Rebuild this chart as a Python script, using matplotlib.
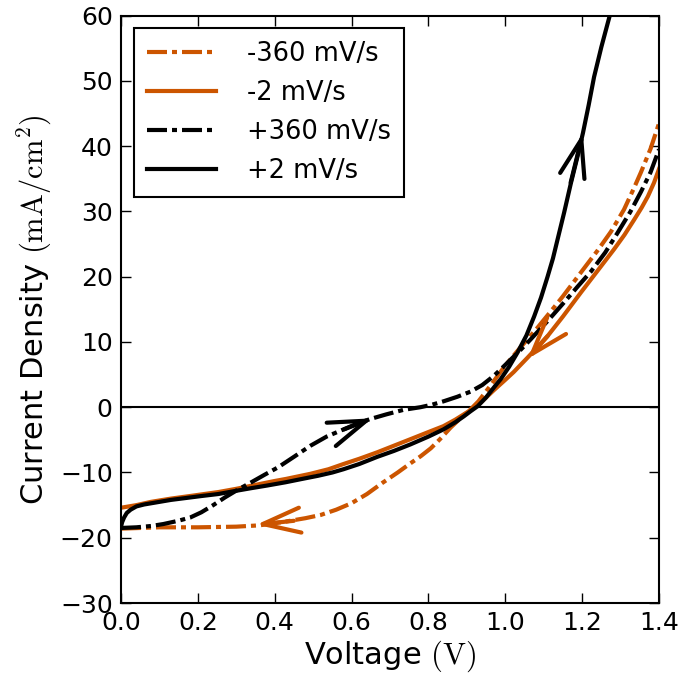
import matplotlib
matplotlib.use("Agg")
import matplotlib.pyplot as plt

# J-V sweeps, voltage in V and current density in mA/cm^2
v_fwd_slow = [0.000, 0.003, 0.008, 0.015, 0.025, 0.040, 0.060, 0.090, 0.130, 0.170,
              0.210, 0.253, 0.300, 0.339, 0.380, 0.428, 0.470, 0.513, 0.550, 0.579,
              0.620, 0.667, 0.710, 0.753, 0.800, 0.839, 0.870, 0.892, 0.910, 0.928,
              0.950, 0.970, 0.988, 1.010, 1.032, 1.055, 1.075, 1.093, 1.110, 1.124,
              1.136, 1.153, 1.171, 1.187, 1.202, 1.217, 1.231, 1.250, 1.270, 1.285]
j_fwd_slow = [-18.3, -17.6, -16.9, -16.2, -15.7, -15.2, -14.9, -14.6, -14.2, -13.9,
              -13.6, -13.3, -12.8, -12.4, -12.0, -11.5, -11.0, -10.5, -10.0, -9.5,
              -8.7, -7.6, -6.7, -5.7, -4.5, -3.4, -2.3, -1.4, -0.6, 0.15,
              1.5, 3.0, 4.3, 6.2, 8.4, 11.0, 13.9, 16.8, 20.0, 22.8,
              25.7, 29.8, 34.4, 38.2, 42.0, 46.3, 50.6, 55.2, 59.6, 63.0]

v_rev_slow = [0.000, 0.040, 0.078, 0.130, 0.180, 0.253, 0.300, 0.350, 0.400, 0.428,
              0.493, 0.540, 0.579, 0.620, 0.667, 0.710, 0.753, 0.800, 0.839, 0.870,
              0.900, 0.936, 0.970, 1.000, 1.022, 1.058, 1.085, 1.110, 1.150, 1.197,
              1.240, 1.283, 1.310, 1.335, 1.355, 1.371, 1.387, 1.400]
j_rev_slow = [-15.4, -15.0, -14.5, -14.0, -13.6, -13.0, -12.5, -11.9, -11.3, -11.0,
              -10.2, -9.5, -8.7, -7.9, -6.9, -5.9, -4.9, -3.8, -2.9, -1.9,
              -0.8, 0.7, 2.6, 4.2, 5.4, 7.6, 9.3, 10.9, 13.9, 17.6,
              20.9, 24.2, 26.4, 28.7, 30.6, 32.3, 34.4, 36.5]

v_fwd_fast = [0.000, 0.040, 0.078, 0.110, 0.149, 0.180, 0.209, 0.240, 0.271, 0.305,
              0.339, 0.375, 0.409, 0.450, 0.493, 0.535, 0.579, 0.615, 0.649, 0.690,
              0.735, 0.779, 0.810, 0.839, 0.875, 0.910, 0.940, 0.970, 0.995, 1.014,
              1.040, 1.066, 1.110, 1.152, 1.190, 1.223, 1.260, 1.293, 1.325, 1.353,
              1.378, 1.400]
j_fwd_fast = [-18.5, -18.4, -18.2, -17.9, -17.4, -16.9, -16.1, -15.0, -13.8, -12.6,
              -11.5, -10.3, -9.2, -7.6, -5.9, -4.5, -3.4, -2.5, -1.8, -1.1,
              -0.4, 0.0, 0.4, 0.9, 1.6, 2.4, 3.4, 4.8, 6.2, 7.3,
              8.8, 10.4, 13.2, 16.0, 18.6, 20.8, 23.7, 26.8, 29.9, 33.0,
              36.0, 39.5]

v_rev_fast = [0.000, 0.050, 0.100, 0.200, 0.300, 0.360, 0.420, 0.480, 0.520, 0.560,
              0.600, 0.640, 0.680, 0.720, 0.753, 0.780, 0.806, 0.830, 0.858, 0.885,
              0.910, 0.930, 0.960, 1.000, 1.040, 1.084, 1.120, 1.150, 1.200, 1.240,
              1.275, 1.309, 1.335, 1.353, 1.378, 1.400]
j_rev_fast = [-18.6, -18.5, -18.4, -18.4, -18.3, -18.1, -17.6, -17.0, -16.5, -15.7,
              -14.7, -13.3, -11.6, -10.0, -8.6, -7.5, -6.3, -4.9, -3.1, -1.6,
              -0.3, 0.9, 3.2, 6.4, 9.2, 12.2, 14.8, 17.0, 20.9, 24.0,
              26.9, 30.3, 33.6, 36.0, 39.6, 43.5]

# sweep direction markers: (tail, tip) on each curve
arrow_fwd_slow = [(1.17, 34.4), (1.202, 42.0)]
arrow_rev_slow = [(1.11, 10.9), (1.058, 7.4)]
arrow_fwd_fast = [(0.58, -3.4), (0.654, -1.7)]
arrow_rev_fast = [(0.45, -17.4), (0.352, -18.0)]

ORANGE = "#cc5500"
DASHDOT = (14.4, 3.6, 3.6, 3.6)

plt.rcParams["mathtext.fontset"] = "cm"
plt.rcParams["lines.scale_dashes"] = False
plt.rcParams["xtick.direction"] = "in"
plt.rcParams["ytick.direction"] = "in"

fig = plt.figure(figsize=(6.81, 6.80), dpi=100)
ax = fig.add_axes([0.1777, 0.1132, 0.79, 0.8638])

style = dict(lw=3, solid_joinstyle="round", dash_capstyle="butt")
ax.plot(v_rev_fast, j_rev_fast, color=ORANGE, dashes=DASHDOT, label="-360 mV/s", **style)
ax.plot(v_rev_slow, j_rev_slow, color=ORANGE, label="-2 mV/s", **style)
ax.plot(v_fwd_fast, j_fwd_fast, color="k", dashes=DASHDOT, label="+360 mV/s", **style)
ax.plot(v_fwd_slow, j_fwd_slow, color="k", label="+2 mV/s", **style)
ax.axhline(0, color="k", lw=1.5, zorder=1)

for (tail, tip), c in [(arrow_fwd_slow, "k"), (arrow_rev_slow, ORANGE),
                       (arrow_fwd_fast, "k"), (arrow_rev_fast, ORANGE)]:
    ax.annotate("", xy=tip, xytext=tail,
                arrowprops=dict(arrowstyle="->,head_length=1.35,head_width=0.45",
                                color=c, lw=3, mutation_scale=20,
                                shrinkA=0, shrinkB=0))

ax.set_xlim(0, 1.4)
ax.set_ylim(-30, 60)
ax.set_xticks([0.0, 0.2, 0.4, 0.6, 0.8, 1.0, 1.2, 1.4])
ax.set_yticks(range(-30, 61, 10))
ax.tick_params(which="both", top=True, right=True, length=7, width=1,
               labelsize=18, pad=6)
for s in ax.spines.values():
    s.set_linewidth(1.5)

ax.set_xlabel(r"Voltage $(\mathrm{V})$", fontsize=22, labelpad=2)
ax.set_ylabel(r"Current Density $(\mathrm{mA/cm^2})$", fontsize=22, labelpad=4)

leg = ax.legend(loc="upper left", fontsize=18.5, handlelength=2.7,
                handletextpad=1.2, borderpad=0.5, labelspacing=0.5,
                borderaxespad=0.5, fancybox=False, framealpha=1, edgecolor="k")
leg.get_frame().set_linewidth(1.5)

fig.savefig("out.png", dpi=100)
